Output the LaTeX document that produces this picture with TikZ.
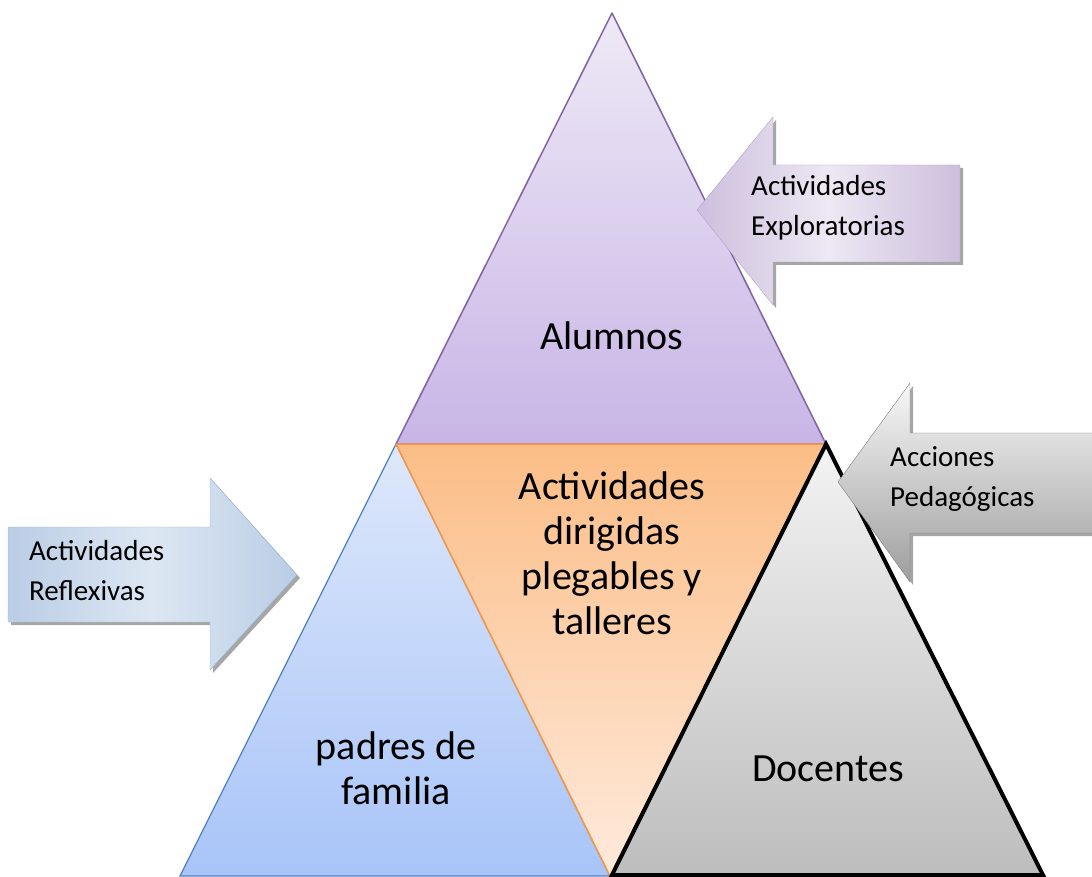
\documentclass[tikz,border=0pt]{standalone}
\usepackage{fontspec}
\setmainfont{Carlito}
\definecolor{alumtop}{HTML}{EEE9F6}
\definecolor{alumbot}{HTML}{C8B5E6}
\definecolor{alumline}{HTML}{8064A2}
\definecolor{padtop}{HTML}{DEE8FB}
\definecolor{padbot}{HTML}{A8C4F8}
\definecolor{padline}{HTML}{4F81BD}
\definecolor{dirtop}{HTML}{FBBD86}
\definecolor{dirbot}{HTML}{FFEADC}
\definecolor{dirline}{HTML}{F79646}
\definecolor{doctop}{HTML}{F3F3F3}
\definecolor{docbot}{HTML}{BDBDBD}
\definecolor{explolight}{HTML}{EDE8F3}
\definecolor{explodark}{HTML}{CDBFDD}
\definecolor{exploline}{HTML}{B3A2C7}
\definecolor{pedline}{HTML}{7F7F7F}
\definecolor{refledge}{HTML}{BACDE5}
\definecolor{reflmid}{HTML}{DDE7F3}
\definecolor{reflline}{HTML}{95B3D7}
\begin{document}
\begin{tikzpicture}[x=1pt, y=-1pt,
    bigtxt/.style={align=center, inner sep=0pt, font=\fontsize{40}{45}\selectfont},
    smalltxt/.style={align=left, anchor=west, inner sep=0pt, font=\fontsize{29}{40}\selectfont},
    shadowed/.style={fill=black!35, draw=none}]
    \useasboundingbox (0,0) rectangle (1092,877);
    % Triangles
    \shade[top color=alumtop, bottom color=alumbot] (612,13) -- (826,444) -- (396,444) -- cycle;
    \draw[color=alumline, line width=1.5pt, line join=round] (612,13) -- (826,444) -- (396,444) -- cycle;
    \shade[top color=padtop, bottom color=padbot] (396,444) -- (610,876) -- (180,876) -- cycle;
    \draw[color=padline, line width=1.2pt] (396,444) -- (610,876) -- (180,876) -- cycle;
    \shade[top color=dirtop, bottom color=dirbot] (396,444) -- (826,444) -- (610,876) -- cycle;
    \draw[color=dirline, line width=1.5pt] (396,444) -- (826,444) -- (610,876) -- cycle;
    \shade[top color=doctop, bottom color=docbot] (826,444) -- (1043,875) -- (612,875) -- cycle;
    \draw[line width=4pt, line join=miter] (826,444) -- (1043,875) -- (612,875) -- cycle;

    % Arrows
    \fill[shadowed] (700,213) -- (776,120) -- (776,168) -- (963,168) -- (963,265) -- (776,265) -- (776,308) -- cycle;
    \shade[left color=explodark, right color=explodark, middle color=explolight, draw=exploline] (697,210) -- (773,117) -- (773,165) -- (960,165) -- (960,262) -- (773,262) -- (773,305) -- cycle;
    \fill[shadowed] (841,485) -- (913,386) -- (913,436) -- (1095,436) -- (1095,536) -- (913,536) -- (913,585) -- cycle;
    \shade[top color=black!3, bottom color=black!38, draw=pedline] (838,482) -- (910,383) -- (910,433) -- (1095,433) -- (1095,533) -- (910,533) -- (910,582) -- cycle;
    \fill[shadowed] (11,530) -- (213,530) -- (213,481) -- (300,578) -- (213,673) -- (213,625) -- (11,625) -- cycle;
    \shade[left color=refledge, right color=refledge, middle color=reflmid, draw=reflline] (8,527) -- (210,527) -- (210,478) -- (297,575) -- (210,670) -- (210,622) -- (8,622) -- cycle;

    % Labels
    \node[bigtxt] (alum) at (612,336) {Alumnos};
    \node[bigtxt] (dirig) at (612,553) {Actividades\\dirigidas\\plegables y\\talleres};
    \node[bigtxt] (padres) at (396,768) {padres de\\familia};
    \node[bigtxt] (doc) at (828,769) {Docentes};
    \node[smalltxt] (explo) at (751,208) {Actividades\\Exploratorias};
    \node[smalltxt] (pedag) at (890,479) {Acciones\\Pedagógicas};
    \node[smalltxt] (reflex) at (29,571) {Actividades\\Reflexivas};
\end{tikzpicture}
\end{document}
